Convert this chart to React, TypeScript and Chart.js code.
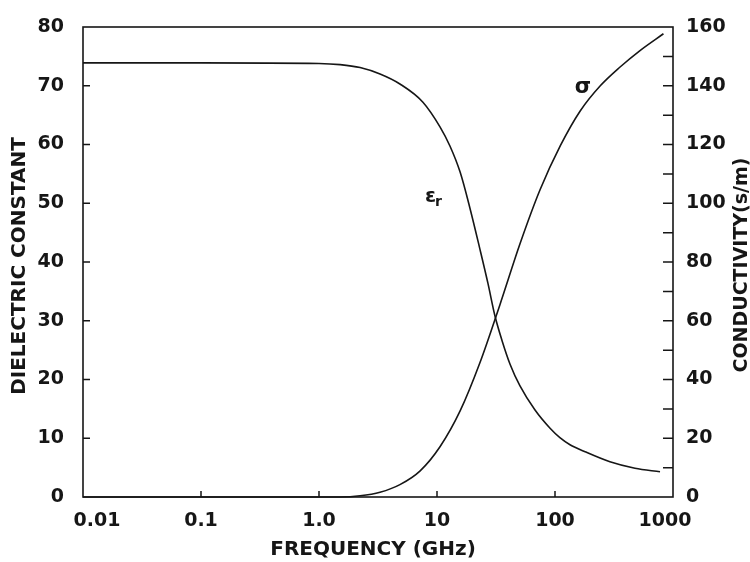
import React, { useEffect, useRef } from "react";
import { Chart, registerables } from "chart.js";

Chart.register(...registerables);

// Frequency axis (GHz, logarithmic)
const FREQ_TICKS = [0.01, 0.1, 1, 10, 100, 1000];
const FREQ_TICK_LABELS = ["0.01", "0.1", "1.0", "10", "100", "1000"];

// Relative dielectric constant εr versus frequency
const EPS_FREQ = [0.01, 0.1, 1.0, 1.51, 2.23, 3.29, 4.85, 7.6, 10.6, 12.9, 15.7, 19.0, 23.1, 27.0, 31.0, 35.6, 41.6, 50.5, 67.7, 90.8, 110, 134, 180, 292, 476, 776];
const EPS_VALUES = [73.9, 73.9, 73.8, 73.6, 73.1, 72.0, 70.3, 67.2, 63.0, 59.7, 55.3, 49.2, 42.2, 36.4, 30.8, 26.6, 22.6, 18.9, 14.8, 11.7, 10.1, 8.9, 7.7, 6.0, 4.9, 4.3];

// Conductivity σ (S/m) versus frequency
const SIGMA_FREQ = [0.01, 0.1, 1.0, 1.51, 2.23, 3.29, 4.85, 7.2, 10.6, 15.7, 23.1, 34.1, 50.5, 74.7, 111, 164, 242, 354, 522, 830];
const SIGMA_VALUES = [0, 0, 0, 0, 0.4, 1.6, 4.2, 8.9, 17.1, 29.3, 45.7, 65.4, 86.2, 104.6, 119.6, 131.5, 140.0, 146.3, 151.9, 157.7];

// Axis ranges and tick steps
const EPS_MAX = 80;
const EPS_STEP = 10;
const SIGMA_MAX = 160;
const SIGMA_STEP = 20;
const SIGMA_MINOR_STEP = 10;

// Curve labels anchored in data coordinates
const EPS_LABEL = { freq: 7.9, value: 50.2 };
const SIGMA_LABEL = { freq: 147, value: 137.5 };

const INK = "#161616";
const FONT = '"DejaVu Sans", "Liberation Sans", Arial, sans-serif';

const decorPlugin = {
  id: "decor",
  afterDatasetsDraw(chart: any) {
    const { ctx, chartArea, scales } = chart;
    const { left, right, top, bottom } = chartArea;
    const x = scales.x;
    const y = scales.y;
    const y1 = scales.y1;

    ctx.save();
    ctx.strokeStyle = INK;
    ctx.lineWidth = 1.6;
    ctx.strokeRect(left, top, right - left, bottom - top);

    // inward tick marks
    ctx.lineWidth = 1.5;
    ctx.beginPath();
    for (let v = EPS_STEP; v < EPS_MAX; v += EPS_STEP) {
      const py = y.getPixelForValue(v);
      ctx.moveTo(left, py);
      ctx.lineTo(left + 7, py);
    }
    for (let v = SIGMA_MINOR_STEP; v < SIGMA_MAX; v += SIGMA_MINOR_STEP) {
      const py = y1.getPixelForValue(v);
      ctx.moveTo(right, py);
      ctx.lineTo(right - 10, py);
    }
    FREQ_TICKS.slice(1, -1).forEach((f) => {
      const px = x.getPixelForValue(f);
      ctx.moveTo(px, bottom);
      ctx.lineTo(px, bottom - 6);
    });
    ctx.stroke();

    ctx.fillStyle = INK;

    // frequency tick labels (end labels kept inside the frame width)
    ctx.font = `bold 19px ${FONT}`;
    ctx.textBaseline = "middle";
    ctx.textAlign = "center";
    const last = FREQ_TICKS.length - 1;
    FREQ_TICKS.forEach((f, i) => {
      const px = x.getPixelForValue(f);
      const shift = i === 0 ? 14 : i === last ? -8 : 0;
      ctx.fillText(FREQ_TICK_LABELS[i], px + shift, bottom + 24);
    });

    // curve labels
    ctx.textAlign = "left";
    ctx.textBaseline = "alphabetic";
    const ex = x.getPixelForValue(EPS_LABEL.freq);
    const ey = y.getPixelForValue(EPS_LABEL.value);
    ctx.font = `bold 20px ${FONT}`;
    ctx.fillText("ε", ex, ey);
    const ew = ctx.measureText("ε").width;
    ctx.font = `bold 14px ${FONT}`;
    ctx.fillText("r", ex + ew - 1, ey + 4);

    const sx = x.getPixelForValue(SIGMA_LABEL.freq);
    const sy = y1.getPixelForValue(SIGMA_LABEL.value);
    ctx.font = `bold 21px ${FONT}`;
    ctx.fillText("σ", sx, sy);

    // axis titles
    ctx.textAlign = "center";
    ctx.textBaseline = "middle";
    ctx.font = `bold 20px ${FONT}`;
    ctx.fillText("FREQUENCY (GHz)", (left + right) / 2 - 5, 550);

    ctx.save();
    ctx.translate(20, (top + bottom) / 2 + 4);
    ctx.rotate(-Math.PI / 2);
    ctx.fillText("DIELECTRIC CONSTANT", 0, 0);
    ctx.restore();

    ctx.save();
    ctx.font = `bold 19px ${FONT}`;
    ctx.translate(742, (top + bottom) / 2 + 3);
    ctx.rotate(-Math.PI / 2);
    ctx.fillText("CONDUCTIVITY(s/m)", 0, 0);
    ctx.restore();

    ctx.restore();
  },
};

export default function App() {
  const canvasRef = useRef<HTMLCanvasElement>(null);

  useEffect(() => {
    const tickFont = { family: FONT, size: 19, weight: "bold" as const };
    const chart = new Chart(canvasRef.current!, {
      type: "line",
      data: {
        datasets: [
          {
            label: "εr",
            data: EPS_FREQ.map((f, i) => ({ x: f, y: EPS_VALUES[i] })),
            yAxisID: "y",
            borderColor: INK,
            borderWidth: 1.6,
            pointRadius: 0,
            cubicInterpolationMode: "monotone",
            fill: false,
            clip: 3,
          },
          {
            label: "σ",
            data: SIGMA_FREQ.map((f, i) => ({ x: f, y: SIGMA_VALUES[i] })),
            yAxisID: "y1",
            borderColor: INK,
            borderWidth: 1.6,
            pointRadius: 0,
            cubicInterpolationMode: "monotone",
            fill: false,
            clip: 3,
          },
        ],
      },
      options: {
        responsive: false,
        animation: false,
        devicePixelRatio: 1,
        layout: { autoPadding: false, padding: { top: 27, left: 0, right: 0, bottom: 0 } },
        plugins: { legend: { display: false }, tooltip: { enabled: false } },
        scales: {
          x: {
            type: "logarithmic",
            min: 0.01,
            max: 1000,
            grid: { display: false },
            border: { display: false },
            afterBuildTicks: (scale: any) => {
              scale.ticks = FREQ_TICKS.map((v) => ({ value: v }));
            },
            afterFit: (scale: any) => {
              scale.height = 65;
            },
            ticks: { display: false },
          },
          y: {
            position: "left",
            min: 0,
            max: EPS_MAX,
            grid: { display: false },
            border: { display: false },
            afterFit: (scale: any) => {
              scale.width = 83;
            },
            ticks: { stepSize: EPS_STEP, padding: 11, color: INK, font: tickFont },
          },
          y1: {
            position: "right",
            min: 0,
            max: SIGMA_MAX,
            grid: { display: false },
            border: { display: false },
            afterFit: (scale: any) => {
              scale.width = 77;
            },
            ticks: { stepSize: SIGMA_STEP, padding: 5, color: INK, font: tickFont },
          },
        },
      },
      plugins: [decorPlugin],
    });
    return () => chart.destroy();
  }, []);

  return (
    <div style={{ position: "fixed", left: 0, top: 0, width: 750, height: 562, background: "#fff" }}>
      <canvas ref={canvasRef} width={750} height={562} style={{ display: "block" }} />
    </div>
  );
}
